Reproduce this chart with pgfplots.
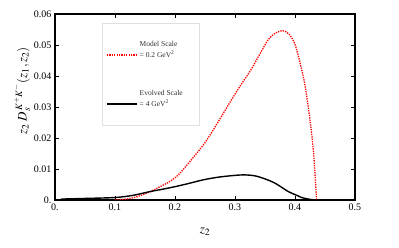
\documentclass[border=0pt]{standalone}
\usepackage{mathptmx}
\usepackage{fontspec}
\setmainfont{Liberation Serif}
\usepackage{pgfplots}
\pgfplotsset{compat=1.18}
\begin{document}
\begin{tikzpicture}
\useasboundingbox (-55pt,-48pt) rectangle (344pt,200pt);
\begin{axis}[
  scale only axis,
  width=300pt, height=186pt,
  xmin=0, xmax=0.5, ymin=0, ymax=0.06,
  scaled y ticks=false, scaled x ticks=false,
  xtick={0,0.1,0.2,0.3,0.4,0.5},
  xticklabels={0.,0.1,0.2,0.3,0.4,0.5},
  ytick={0,0.01,0.02,0.03,0.04,0.05,0.06},
  yticklabels={0.,0.01,0.02,0.03,0.04,0.05,0.06},
  tick align=inside,
  major tick length=4pt,
  tick style={black, line width=0.8pt},
  axis line style={line width=1.1pt},
  tick label style={font=\fontsize{10}{11}\selectfont},
  xlabel={$z_2$},
  ylabel={$z_2\;D_s^{\,K^+K^-}(z_1,z_2)$},
  label style={font=\fontsize{13}{14}\selectfont},
  xlabel style={at={(axis description cs:0.5,-0.17)}, anchor=center},
  ylabel style={at={(axis description cs:-0.11,0.586)}, anchor=center},
  legend style={at={(0.157,0.952)}, anchor=north west, draw=black!12,
    font=\fontsize{7.5}{9}\selectfont,
    inner xsep=4pt, inner ysep=15pt, row sep=26pt,
    cells={anchor=base west}},
  legend image code/.code={\draw[#1] (0pt,2.5pt) -- (30pt,2.5pt);},
]
\addplot[draw=red, line width=1.3pt, dash pattern=on 1.3pt off 1.1pt, smooth] coordinates {
(0.10,0) (0.115,0.0002) (0.13,0.0007) (0.145,0.0016) (0.16,0.0028)
(0.175,0.0043) (0.19,0.0058) (0.205,0.0080) (0.22,0.0113) (0.235,0.0148)
(0.25,0.0185) (0.265,0.0230) (0.28,0.0278) (0.295,0.0326) (0.31,0.0372)
(0.325,0.0415) (0.34,0.0466) (0.355,0.0516) (0.367,0.0538) (0.38,0.0546)
(0.39,0.0535) (0.40,0.0502) (0.41,0.0430) (0.417,0.0366) (0.425,0.0258)
(0.431,0.0150) (0.436,0)
};
\addlegendentry{\color{black!80}\begin{tabular}[b]{@{}l@{\hspace{10pt}}}Model Scale\\[2pt]= 0.2 GeV\textsuperscript{2}\end{tabular}}
\addplot[draw=black, line width=1.4pt, smooth] coordinates {
(0.01,0.0003) (0.05,0.0005) (0.10,0.0008) (0.13,0.0015) (0.158,0.0027)
(0.18,0.0035) (0.20,0.0043) (0.22,0.0052) (0.247,0.0065) (0.27,0.0073)
(0.292,0.0078) (0.314,0.0081) (0.333,0.0078) (0.35,0.0068) (0.367,0.0054)
(0.389,0.0027) (0.403,0.0015) (0.411,0.0008) (0.425,0.0002) (0.436,0) (0.445,0)
};
\addlegendentry{\color{black!80}\begin{tabular}[b]{@{}l@{\hspace{10pt}}}Evolved Scale\\[2pt]= 4 GeV\textsuperscript{2}\end{tabular}}
\end{axis}
\end{tikzpicture}
\end{document}
